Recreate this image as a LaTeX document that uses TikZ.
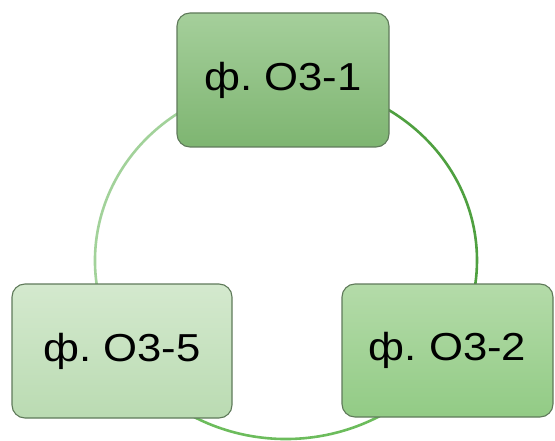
\documentclass[tikz,border=0pt]{standalone}
\usepackage{fontspec}
\setmainfont{Liberation Sans}
\begin{document}
\begin{tikzpicture}[x=1pt,y=1pt,
  boxstyle/.style={draw=boxborder, line width=1.1pt, rounded corners=13pt,
    inner sep=0pt, font=\fontsize{39}{44}\selectfont, text=black},
  arcstyle/.style={line width=2.6pt}]
\definecolor{boxborder}{HTML}{5F7A5A}
\definecolor{arcdark}{HTML}{4FA040}
\definecolor{arcmid}{HTML}{6CBC5C}
\definecolor{arclight}{HTML}{A2D29A}
\useasboundingbox (0,0) rectangle (555,440);
\coordinate (c) at (286,179.5);
% ring
\draw[arcstyle, arcdark] ([shift={(90:191 and 178.5)}]c) arc[start angle=90, end angle=-30, x radius=191, y radius=178.5];
\draw[arcstyle, arcmid] ([shift={(-30:191 and 178.5)}]c) arc[start angle=-30, end angle=-150, x radius=191, y radius=178.5];
\draw[arcstyle, arclight] ([shift={(-150:191 and 178.5)}]c) arc[start angle=-150, end angle=-270, x radius=191, y radius=178.5];
% boxes
\node[boxstyle, top color={rgb,255:red,165;green,207;blue,155}, bottom color={rgb,255:red,126;green,181;blue,113},
  minimum width=212pt, minimum height=134pt] (b1) at (283,360) {\scalebox{1.12}[1]{ф.\ О3-1}};
\node[boxstyle, top color={rgb,255:red,180;green,219;blue,169}, bottom color={rgb,255:red,146;green,203;blue,133},
  minimum width=211pt, minimum height=133pt] (b2) at (447.5,89.5) {\scalebox{1.12}[1]{ф.\ О3-2}};
\node[boxstyle, top color={rgb,255:red,212;green,233;blue,206}, bottom color={rgb,255:red,186;green,219;blue,178},
  minimum width=220pt, minimum height=134pt] (b5) at (122,89) {\scalebox{1.12}[1]{ф.\ О3-5}};
\end{tikzpicture}
\end{document}
